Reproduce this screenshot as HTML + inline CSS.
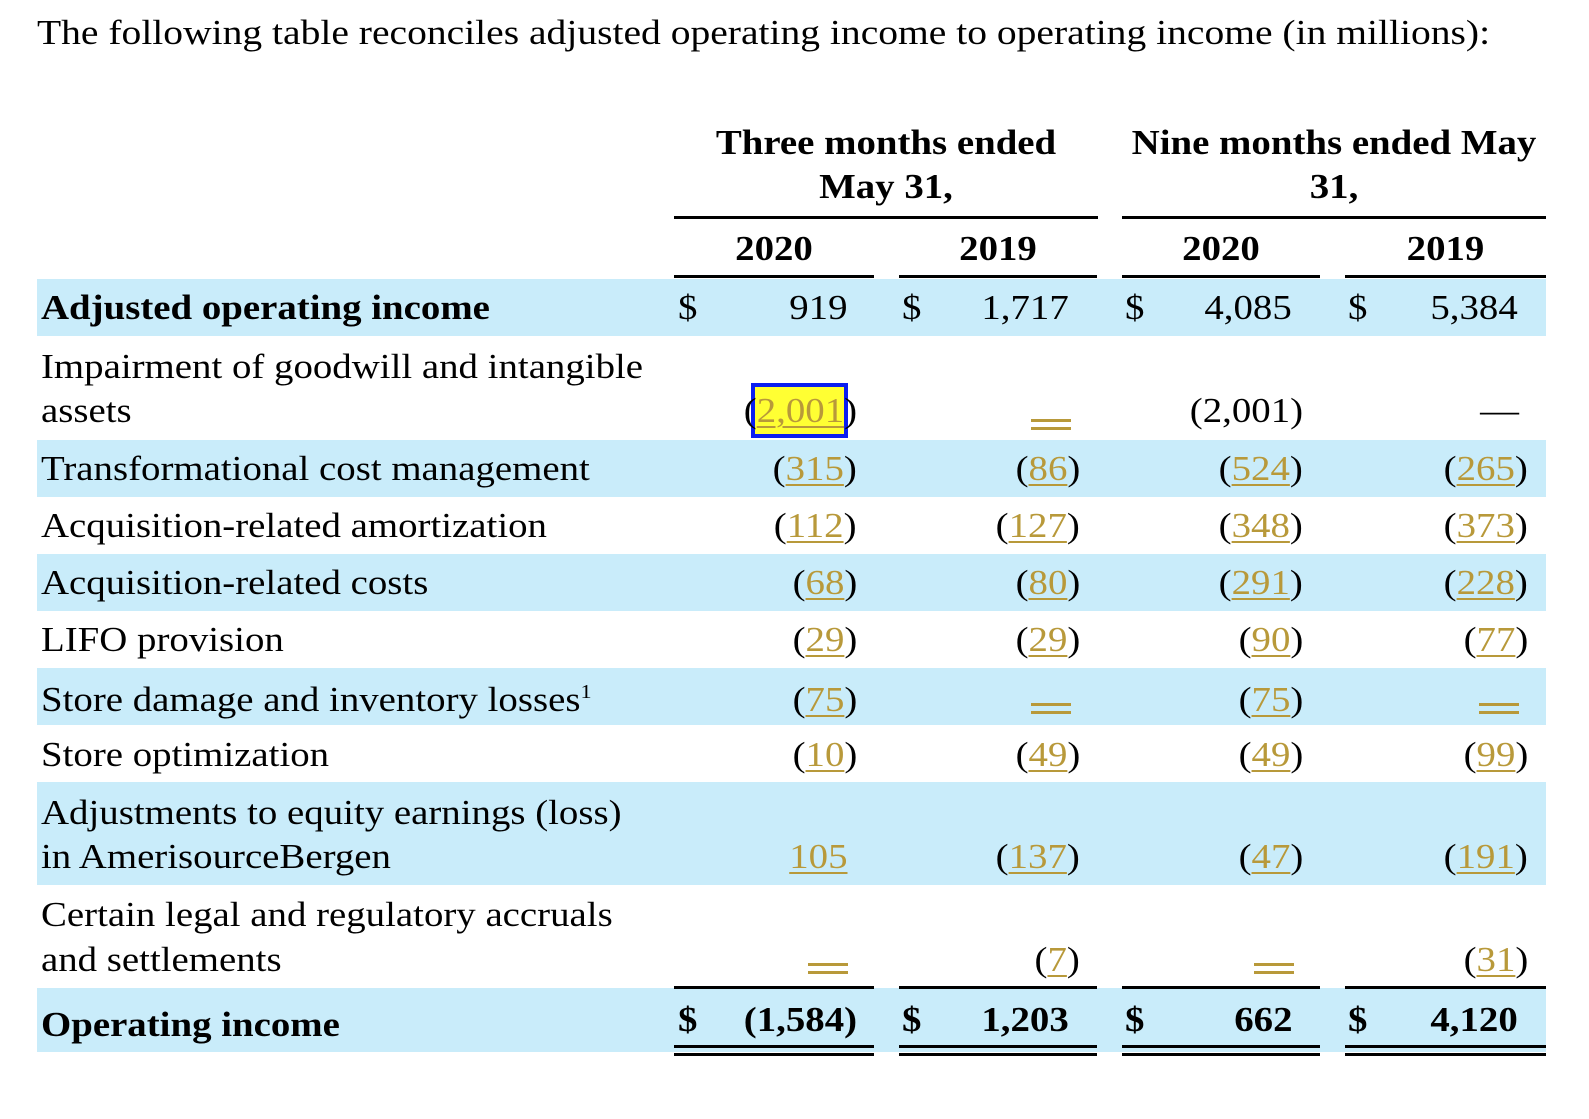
<!DOCTYPE html>
<html><head><meta charset="utf-8"><style>
body{margin:0;width:1589px;height:1119px;background:#fff;position:relative;overflow:hidden;font-family:"Liberation Serif",serif;color:#000}
.t{position:absolute;line-height:40px;white-space:nowrap;font-size:35px;transform:scaleX(1.11);transform-origin:left center}
.r{text-align:right;transform-origin:right center}
.c{text-align:center;transform-origin:center center}
.b{font-weight:bold}
.band{position:absolute;left:37px;width:1509px;background:#c9ecfa}
.ln{position:absolute;background:#000}
u{color:#b8993a;text-decoration:underline;text-decoration-thickness:2px;text-underline-offset:4px}
.d{position:absolute;height:3px;background:#b8993a}
</style></head><body>
<div class="t" style="left:37px;top:13px;font-size:35px;transform:scaleX(1.13)">The following table reconciles adjusted operating income to operating income (in millions):</div>

<div class="band" style="top:279px;height:57px"></div>
<div class="band" style="top:440px;height:57px"></div>
<div class="band" style="top:554px;height:57px"></div>
<div class="band" style="top:668px;height:57px"></div>
<div class="band" style="top:782px;height:103px"></div>
<div class="band" style="top:988px;height:64px"></div>

<div class="t b c" style="left:674px;width:424px;top:123px">Three months ended</div>
<div class="t b c" style="left:674px;width:424px;top:167px">May 31,</div>
<div class="t b c" style="left:1122px;width:424px;top:123px">Nine months ended May</div>
<div class="t b c" style="left:1122px;width:424px;top:167px">31,</div>
<div class="ln" style="left:674px;width:424px;top:216px;height:3px"></div>
<div class="ln" style="left:1122px;width:424px;top:216px;height:3px"></div>
<div class="t b c" style="left:674px;width:200px;top:229px">2020</div>
<div class="t b c" style="left:899px;width:198px;top:229px">2019</div>
<div class="t b c" style="left:1122px;width:198px;top:229px">2020</div>
<div class="t b c" style="left:1345px;width:201px;top:229px">2019</div>
<div class="ln" style="left:674px;width:200px;top:275px;height:3px"></div>
<div class="ln" style="left:899px;width:198px;top:275px;height:3px"></div>
<div class="ln" style="left:1122px;width:198px;top:275px;height:3px"></div>
<div class="ln" style="left:1345px;width:201px;top:275px;height:3px"></div>

<div class="t b" style="left:41px;top:288px">Adjusted operating income</div>
<div class="t" style="left:41px;top:347px">Impairment of goodwill and intangible</div>
<div class="t" style="left:41px;top:391px">assets</div>
<div class="t" style="left:41px;top:449px">Transformational cost management</div>
<div class="t" style="left:41px;top:506px">Acquisition-related amortization</div>
<div class="t" style="left:41px;top:563px">Acquisition-related costs</div>
<div class="t" style="left:41px;top:620px">LIFO provision</div>
<div class="t" style="left:41px;top:680px">Store damage and inventory losses<span style="font-size:20px;position:relative;top:-13px">1</span></div>
<div class="t" style="left:41px;top:735px">Store optimization</div>
<div class="t" style="left:41px;top:793px">Adjustments to equity earnings (loss)</div>
<div class="t" style="left:41px;top:837px">in AmerisourceBergen</div>
<div class="t" style="left:41px;top:895px">Certain legal and regulatory accruals</div>
<div class="t" style="left:41px;top:940px">and settlements</div>
<div class="t b" style="left:41px;top:1005px">Operating income</div>

<div class="t" style="left:678px;top:288px">$</div>
<div class="t" style="left:902px;top:288px">$</div>
<div class="t" style="left:1125px;top:288px">$</div>
<div class="t" style="left:1348px;top:288px">$</div>
<div class="t r" style="right:742px;top:288px">919</div>
<div class="t r" style="right:520px;top:288px">1,717</div>
<div class="t r" style="right:297px;top:288px">4,085</div>
<div class="t r" style="right:71px;top:288px">5,384</div>

<div style="position:absolute;left:751px;top:383px;width:97px;height:55px;border:4px solid #0a1ef0;background:#ffff33;box-sizing:border-box"></div>
<div class="t r" style="right:732px;top:391px">(<u>2,001</u>)</div>
<div class="d" style="left:1031px;width:40px;top:419px"></div><div class="d" style="left:1031px;width:40px;top:427px"></div>
<div class="t r" style="right:286px;top:391px">(2,001)</div>
<div class="t r" style="right:70px;top:391px">—</div>

<div class="t r" style="right:732px;top:449px">(<u>315</u>)</div>
<div class="t r" style="right:509px;top:449px">(<u>86</u>)</div>
<div class="t r" style="right:286px;top:449px">(<u>524</u>)</div>
<div class="t r" style="right:61px;top:449px">(<u>265</u>)</div>

<div class="t r" style="right:732px;top:506px">(<u>112</u>)</div>
<div class="t r" style="right:509px;top:506px">(<u>127</u>)</div>
<div class="t r" style="right:286px;top:506px">(<u>348</u>)</div>
<div class="t r" style="right:61px;top:506px">(<u>373</u>)</div>

<div class="t r" style="right:732px;top:563px">(<u>68</u>)</div>
<div class="t r" style="right:509px;top:563px">(<u>80</u>)</div>
<div class="t r" style="right:286px;top:563px">(<u>291</u>)</div>
<div class="t r" style="right:61px;top:563px">(<u>228</u>)</div>

<div class="t r" style="right:732px;top:620px">(<u>29</u>)</div>
<div class="t r" style="right:509px;top:620px">(<u>29</u>)</div>
<div class="t r" style="right:286px;top:620px">(<u>90</u>)</div>
<div class="t r" style="right:61px;top:620px">(<u>77</u>)</div>

<div class="t r" style="right:732px;top:680px">(<u>75</u>)</div>
<div class="d" style="left:1031px;width:40px;top:703px"></div><div class="d" style="left:1031px;width:40px;top:711px"></div>
<div class="t r" style="right:286px;top:680px">(<u>75</u>)</div>
<div class="d" style="left:1479px;width:40px;top:703px"></div><div class="d" style="left:1479px;width:40px;top:711px"></div>

<div class="t r" style="right:732px;top:735px">(<u>10</u>)</div>
<div class="t r" style="right:509px;top:735px">(<u>49</u>)</div>
<div class="t r" style="right:286px;top:735px">(<u>49</u>)</div>
<div class="t r" style="right:61px;top:735px">(<u>99</u>)</div>

<div class="t r" style="right:742px;top:837px"><u>105</u></div>
<div class="t r" style="right:509px;top:837px">(<u>137</u>)</div>
<div class="t r" style="right:286px;top:837px">(<u>47</u>)</div>
<div class="t r" style="right:61px;top:837px">(<u>191</u>)</div>

<div class="d" style="left:808px;width:40px;top:963px"></div><div class="d" style="left:808px;width:40px;top:971px"></div>
<div class="t r" style="right:509px;top:940px">(<u>7</u>)</div>
<div class="d" style="left:1254px;width:40px;top:963px"></div><div class="d" style="left:1254px;width:40px;top:971px"></div>
<div class="t r" style="right:61px;top:940px">(<u>31</u>)</div>

<div class="ln" style="left:674px;width:200px;top:986px;height:3px"></div>
<div class="ln" style="left:899px;width:198px;top:986px;height:3px"></div>
<div class="ln" style="left:1122px;width:198px;top:986px;height:3px"></div>
<div class="ln" style="left:1345px;width:201px;top:986px;height:3px"></div>

<div class="t b" style="left:678px;top:1000px">$</div>
<div class="t b" style="left:902px;top:1000px">$</div>
<div class="t b" style="left:1125px;top:1000px">$</div>
<div class="t b" style="left:1348px;top:1000px">$</div>
<div class="t b r" style="right:732px;top:1000px">(1,584)</div>
<div class="t b r" style="right:520px;top:1000px">1,203</div>
<div class="t b r" style="right:297px;top:1000px">662</div>
<div class="t b r" style="right:71px;top:1000px">4,120</div>

<div class="ln" style="left:674px;width:200px;top:1045px;height:3px"></div>
<div class="ln" style="left:899px;width:198px;top:1045px;height:3px"></div>
<div class="ln" style="left:1122px;width:198px;top:1045px;height:3px"></div>
<div class="ln" style="left:1345px;width:201px;top:1045px;height:3px"></div>
<div class="ln" style="left:674px;width:200px;top:1053px;height:3px"></div>
<div class="ln" style="left:899px;width:198px;top:1053px;height:3px"></div>
<div class="ln" style="left:1122px;width:198px;top:1053px;height:3px"></div>
<div class="ln" style="left:1345px;width:201px;top:1053px;height:3px"></div>
</body></html>
